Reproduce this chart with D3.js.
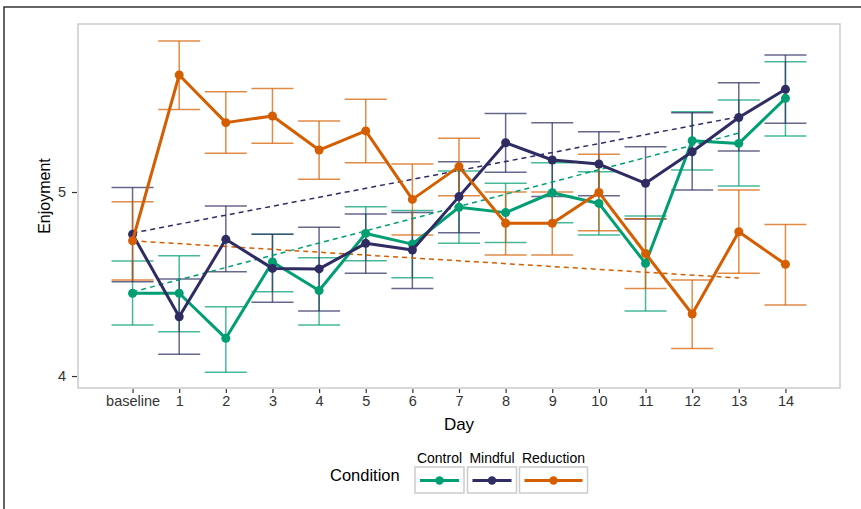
<!DOCTYPE html>
<html>
<head>
<meta charset="utf-8">
<script src="https://cdn.jsdelivr.net/npm/d3@7"></script>
<style>
  body { margin: 0; background: #fff; }
  svg { display: block; font-family: "Liberation Sans", Arial, sans-serif; }
</style>
</head>
<body>
<div id="chart"></div>
<script>
const days = ["baseline", "1", "2", "3", "4", "5", "6", "7", "8", "9", "10", "11", "12", "13", "14"];
const conditions = ["Control", "Mindful", "Reduction"];
const colors = ["#009E73", "#2E2C63", "#D55E00"];

const controlMean = [4.45, 4.45, 4.205, 4.62, 4.465, 4.775, 4.717, 4.917, 4.888, 4.996, 4.938, 4.612, 5.279, 5.264, 5.509];
const controlLow  = [4.277, 4.241, 4.02, 4.458, 4.277, 4.627, 4.534, 4.721, 4.726, 4.833, 4.766, 4.353, 5.12, 5.033, 5.304];
const controlHigh = [4.625, 4.654, 4.377, 4.77, 4.643, 4.92, 4.9, 5.114, 5.047, 5.159, 5.11, 4.87, 5.436, 5.5, 5.708];

const mindfulMean = [4.77, 4.322, 4.743, 4.585, 4.582, 4.721, 4.685, 4.975, 5.268, 5.174, 5.152, 5.047, 5.219, 5.405, 5.558];
const mindfulLow  = [4.513, 4.118, 4.567, 4.401, 4.353, 4.558, 4.476, 4.779, 5.107, 4.975, 4.98, 4.853, 5.011, 5.223, 5.373];
const mindfulHigh = [5.024, 4.527, 4.924, 4.77, 4.808, 4.88, 4.889, 5.165, 5.427, 5.377, 5.328, 5.246, 5.431, 5.594, 5.745];

const reductionMean = [4.735, 5.636, 5.377, 5.413, 5.228, 5.332, 4.96, 5.138, 4.83, 4.83, 4.998, 4.666, 4.337, 4.784, 4.607];
const reductionLow  = [4.522, 5.449, 5.21, 5.265, 5.069, 5.159, 4.766, 4.98, 4.658, 4.658, 4.79, 4.476, 4.15, 4.558, 4.386];
const reductionHigh = [4.947, 5.821, 5.545, 5.563, 5.386, 5.504, 5.152, 5.292, 5.0, 5.0, 5.205, 4.855, 4.522, 5.011, 4.824];

// dashed trend lines, baseline to day 13
const trendDays = ["baseline", "13"];
const controlTrend = [4.457, 5.32];
const mindfulTrend = [4.777, 5.409];
const reductionTrend = [4.735, 4.533];

const yTicks = [4, 5];

const series = [
  { name: "Control", mean: controlMean, low: controlLow, high: controlHigh, trend: controlTrend },
  { name: "Mindful", mean: mindfulMean, low: mindfulLow, high: mindfulHigh, trend: mindfulTrend },
  { name: "Reduction", mean: reductionMean, low: reductionLow, high: reductionHigh, trend: reductionTrend }
];

const W = 861, H = 509;
const panel = { left: 78, right: 840, top: 24, bottom: 388 };

const svg = d3.select("#chart").append("svg")
  .attr("width", W)
  .attr("height", H);

// outer frame (top and left edges of the screenshot)
svg.append("path")
  .attr("d", `M4,${H} L4,7 L${W},7`)
  .attr("fill", "none")
  .attr("stroke", "#333")
  .attr("stroke-width", 1.5);

const xScale = d3.scalePoint().domain(days).range([panel.left, panel.right]).padding(1.17);
const yScale = d3.scaleLinear().domain([3.935, 5.913]).range([panel.bottom, panel.top]);
const zScale = d3.scaleOrdinal().domain(conditions).range(colors);

const records = s => days.map((d, i) => ({ day: d, mean: s.mean[i], low: s.low[i], high: s.high[i] }));

const g = svg.append("g");

// error bars
const capHalf = 21;
series.forEach(s => {
  const eb = g.append("g")
    .attr("stroke", zScale(s.name))
    .attr("stroke-opacity", 0.72)
    .attr("stroke-width", 1.5)
    .attr("fill", "none");
  records(s).forEach(r => {
    const x = xScale(r.day);
    eb.append("line").attr("x1", x).attr("x2", x).attr("y1", yScale(r.low)).attr("y2", yScale(r.high));
    eb.append("line").attr("x1", x - capHalf).attr("x2", x + capHalf).attr("y1", yScale(r.low)).attr("y2", yScale(r.low));
    eb.append("line").attr("x1", x - capHalf).attr("x2", x + capHalf).attr("y1", yScale(r.high)).attr("y2", yScale(r.high));
  });
});

// dashed trends
series.forEach(s => {
  g.append("line")
    .attr("x1", xScale(trendDays[0])).attr("y1", yScale(s.trend[0]))
    .attr("x2", xScale(trendDays[1])).attr("y2", yScale(s.trend[1]))
    .attr("stroke", zScale(s.name))
    .attr("stroke-width", 1.5)
    .attr("stroke-dasharray", "5,4");
});

const line = d3.line().x(d => xScale(d.day)).y(d => yScale(d.mean));

series.forEach(s => {
  const recs = records(s);
  g.append("path")
    .attr("d", line(recs))
    .attr("fill", "none")
    .attr("stroke", zScale(s.name))
    .attr("stroke-width", 3)
    .attr("stroke-linejoin", "round");
  g.selectAll(null).data(recs).enter().append("circle")
    .attr("cx", d => xScale(d.day))
    .attr("cy", d => yScale(d.mean))
    .attr("r", 4.5)
    .attr("fill", zScale(s.name));
});

// panel border
svg.append("rect")
  .attr("x", panel.left).attr("y", panel.top)
  .attr("width", panel.right - panel.left).attr("height", panel.bottom - panel.top)
  .attr("fill", "none")
  .attr("stroke", "#cccccc")
  .attr("stroke-width", 1.5);

// axes
const xAxis = svg.append("g")
  .attr("transform", `translate(0,${panel.bottom + 1})`)
  .call(d3.axisBottom(xScale).tickSize(4).tickPadding(3));
const yAxis = svg.append("g")
  .attr("transform", `translate(${panel.left - 1},0)`)
  .call(d3.axisLeft(yScale).tickValues(yTicks).tickFormat(d3.format("d")).tickSize(5).tickPadding(6));
[xAxis, yAxis].forEach(a => {
  a.select(".domain").remove();
  a.selectAll(".tick line").attr("stroke", "#333").attr("stroke-width", 1.2);
  a.selectAll(".tick text").attr("fill", "#333").style("font-size", "14.5px").style("font-family", "Liberation Sans, Arial, sans-serif");
});

svg.append("text")
  .attr("x", (panel.left + panel.right) / 2).attr("y", 430)
  .attr("text-anchor", "middle")
  .style("font-size", "17px")
  .text("Day");

svg.append("text")
  .attr("transform", `translate(50,${(panel.top + panel.bottom) / 2 - 10}) rotate(-90)`)
  .attr("text-anchor", "middle")
  .style("font-size", "16px")
  .text("Enjoyment");

// legend
const legend = svg.append("g");
legend.append("text")
  .attr("x", 330).attr("y", 481)
  .style("font-size", "16.5px")
  .text("Condition");
const keys = [
  { name: "Control", x: 415, w: 49 },
  { name: "Mindful", x: 467.5, w: 49 },
  { name: "Reduction", x: 519.5, w: 68 }
];
keys.forEach(k => {
  const kg = legend.append("g");
  kg.append("rect")
    .attr("x", k.x).attr("y", 467).attr("width", k.w).attr("height", 26)
    .attr("fill", "#fff").attr("stroke", "#cccccc").attr("stroke-width", 1.5);
  kg.append("line")
    .attr("x1", k.x + 5).attr("x2", k.x + k.w - 5).attr("y1", 480.5).attr("y2", 480.5)
    .attr("stroke", zScale(k.name)).attr("stroke-width", 3);
  kg.append("circle")
    .attr("cx", k.x + k.w / 2).attr("cy", 480.5).attr("r", 4.2)
    .attr("fill", zScale(k.name));
  kg.append("text")
    .attr("x", k.x + k.w / 2).attr("y", 463)
    .attr("text-anchor", "middle")
    .style("font-size", "14px")
    .text(k.name);
});
</script>
</body>
</html>
